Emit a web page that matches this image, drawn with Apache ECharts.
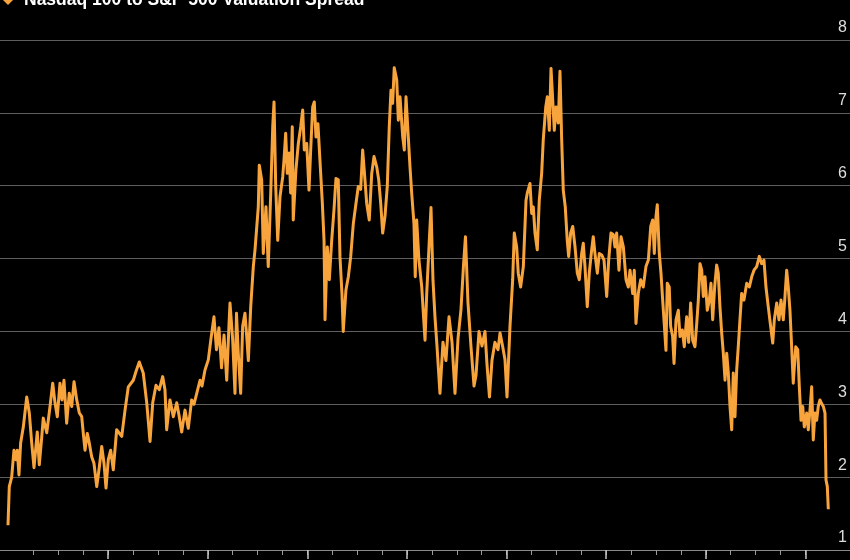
<!DOCTYPE html>
<html>
<head>
<meta charset="utf-8">
<script src="https://cdn.jsdelivr.net/npm/echarts@6/dist/echarts.min.js"></script>
<style>
html,body{margin:0;padding:0;background:#000;}
#chart{width:850px;height:560px;}
</style>
</head>
<body>
<div id="chart"></div>
<script>
const seriesName = 'Nasdaq 100 to S&P 500 Valuation Spread';
const yTicks = [1, 2, 3, 4, 5, 6, 7, 8];
// time in years since start of chart
const t = [
-0.006,0.007,0.031,0.054,0.074,0.087,0.104,0.121,0.148,0.182,0.208,0.232,0.255,0.272,0.288,0.308,0.332,0.348,0.383,0.416,
0.443,0.466,0.489,0.516,0.536,0.556,0.583,0.609,0.634,0.657,0.684,0.710,0.734,0.750,0.767,0.790,0.810,0.834,0.857,0.885,
0.911,0.935,0.958,0.978,1.001,1.025,1.051,1.085,1.136,1.169,1.202,1.252,1.279,1.312,1.352,1.387,1.420,1.447,1.480,1.513,
1.547,1.570,1.587,1.620,1.654,1.688,1.711,1.738,1.771,1.804,1.838,1.861,1.889,1.922,1.942,1.972,2.005,2.032,2.062,2.087,
2.112,2.138,2.163,2.190,2.213,2.223,2.250,2.273,2.288,2.306,2.330,2.350,2.373,2.391,2.407,2.431,2.457,2.474,2.507,2.517,
2.541,2.557,2.584,2.607,2.632,2.652,2.665,2.682,2.702,2.725,2.752,2.765,2.782,2.798,2.818,2.832,2.848,2.858,2.885,2.909,
2.933,2.953,2.969,2.993,3.016,3.033,3.053,3.069,3.086,3.106,3.126,3.150,3.167,3.177,3.200,3.220,3.244,3.267,3.287,3.310,
3.327,3.347,3.360,3.387,3.411,3.435,3.461,3.488,3.511,3.535,3.555,3.578,3.595,3.621,3.646,3.669,3.696,3.716,3.736,3.756,
3.779,3.802,3.822,3.839,3.856,3.872,3.897,3.913,3.930,3.957,3.973,3.990,4.013,4.030,4.047,4.070,4.083,4.097,4.120,4.148,
4.164,4.181,4.198,4.224,4.241,4.261,4.281,4.301,4.331,4.361,4.391,4.422,4.452,4.482,4.512,4.542,4.567,4.587,4.612,4.642,
4.673,4.693,4.723,4.753,4.783,4.803,4.828,4.853,4.883,4.914,4.934,4.961,4.984,5.004,5.034,5.061,5.077,5.101,5.117,5.141,
5.168,5.195,5.208,5.235,5.252,5.268,5.285,5.308,5.328,5.352,5.368,5.393,5.409,5.429,5.446,5.463,5.479,5.496,5.519,5.536,
5.553,5.569,5.589,5.609,5.623,5.643,5.664,5.687,5.710,5.730,5.754,5.770,5.787,5.810,5.830,5.854,5.870,5.887,5.911,5.931,
5.955,5.978,6.005,6.025,6.048,6.071,6.088,6.105,6.128,6.149,6.172,6.199,6.222,6.239,6.266,6.282,6.299,6.322,6.346,6.372,
6.399,6.423,6.447,6.467,6.483,6.500,6.513,6.533,6.550,6.567,6.580,6.600,6.613,6.633,6.647,6.667,6.681,6.701,6.724,6.741,
6.764,6.784,6.808,6.828,6.848,6.868,6.891,6.909,6.925,6.942,6.959,6.975,6.992,7.015,7.035,7.052,7.069,7.089,7.109,7.125,
7.142,7.160,7.176,7.193,7.210,7.226,7.243,7.260,7.276,7.293,7.310,7.326,7.343,7.360,7.383,7.411,7.437,7.461,7.484,7.511,
7.537,7.561,7.584,7.604,7.627,7.651,7.672,7.688,7.712,7.735,7.755,7.778,7.795,7.812,7.828,7.845,7.862,7.878,7.903,7.923,
7.939,7.956,7.973,7.989,8.013,8.029,8.046,8.063,8.079,8.096,8.113,8.129,8.146,8.163,8.180,8.197,8.207,8.220,8.230
];
const spread = [
1.34,1.87,2.00,2.37,2.24,2.37,2.03,2.47,2.69,3.10,2.88,2.47,2.13,2.14,2.62,2.17,2.54,2.81,2.61,2.97,
3.29,3.02,2.83,3.29,3.06,3.33,2.74,3.15,2.97,3.31,3.06,2.88,2.83,2.60,2.37,2.60,2.47,2.28,2.19,1.87,
2.14,2.42,2.19,1.85,2.24,2.37,2.10,2.65,2.56,2.92,3.24,3.33,3.45,3.58,3.43,3.02,2.49,3.02,3.26,3.20,
3.38,3.20,2.65,3.06,2.83,3.02,2.85,2.62,2.92,2.67,3.06,3.00,3.15,3.33,3.25,3.47,3.61,3.90,4.20,3.75,
4.05,3.50,3.95,3.33,4.10,4.39,3.88,3.15,4.25,3.70,3.15,4.07,4.25,3.93,3.60,4.34,4.89,5.12,5.71,6.28,
6.08,5.07,5.71,4.89,5.90,6.81,7.15,5.99,5.25,5.85,6.12,6.35,6.72,6.17,6.45,5.90,6.81,5.53,6.22,6.58,
6.81,7.04,6.49,6.58,5.94,6.49,7.08,7.15,6.67,6.85,6.35,5.76,5.25,4.16,5.16,4.71,5.25,5.67,6.10,6.08,
5.03,4.52,4.00,4.57,4.75,5.03,5.48,5.76,5.99,5.95,6.49,6.08,5.76,5.53,6.17,6.40,6.26,6.08,5.76,5.35,
5.58,5.99,6.81,7.31,7.13,7.62,7.45,6.90,7.22,6.67,6.49,7.22,6.67,6.26,5.90,5.48,4.75,5.53,4.98,4.61,
4.25,3.88,4.52,5.25,5.70,4.70,4.20,3.80,3.15,3.85,3.60,4.20,3.85,3.15,3.90,4.30,4.90,5.30,4.40,3.80,
3.25,3.40,4.00,3.80,4.00,3.55,3.10,3.60,3.85,3.75,3.98,3.79,3.61,3.10,4.07,4.71,5.35,5.16,4.80,4.61,
4.89,5.80,5.90,6.03,5.62,5.71,5.35,5.12,5.80,6.17,6.63,7.08,7.22,6.76,7.61,7.18,6.76,7.08,6.86,7.57,
6.63,5.94,5.71,5.25,5.03,5.35,5.44,5.16,4.80,4.71,5.07,5.21,4.89,4.34,4.80,5.12,5.30,5.07,4.80,5.07,
5.05,4.98,4.48,4.98,5.35,5.33,5.16,5.35,4.84,5.30,5.16,4.71,4.61,4.84,4.52,4.84,4.11,4.52,4.71,4.61,
4.89,4.98,5.44,5.53,5.07,5.58,5.74,5.07,4.80,4.43,4.16,3.74,4.66,4.61,4.07,3.93,3.56,4.16,4.29,3.93,
4.02,3.79,4.20,3.85,4.39,3.88,3.79,4.11,4.43,4.93,4.84,4.48,4.75,4.29,4.43,4.66,4.16,4.61,4.91,4.80,
4.34,3.97,3.70,3.33,3.70,3.43,2.97,2.65,3.43,2.83,3.47,3.79,4.16,4.52,4.43,4.66,4.61,4.75,4.84,4.89,
5.03,4.93,4.98,4.61,4.34,4.07,3.84,4.16,4.39,4.16,4.43,4.16,4.48,4.84,4.61,4.29,3.79,3.29,3.79,3.75,
3.24,2.78,2.97,2.69,2.88,2.65,2.92,3.24,2.51,2.88,2.78,2.97,3.06,3.01,2.97,2.88,1.96,1.87,1.56
];

const chart = echarts.init(document.getElementById('chart'), null, {renderer: 'canvas'});
const data = t.map((v, i) => [v, spread[i]]);

chart.setOption({
  animation: false,
  backgroundColor: '#000000',
  legend: {
    show: true,
    data: [seriesName],
    left: -2,
    top: -14,
    icon: 'diamond',
    itemWidth: 10,
    itemHeight: 10,
    textStyle: {color: '#ffffff', fontSize: 17.5, fontWeight: 'bold', fontFamily: 'Liberation Sans, Arial, sans-serif', padding: [0, 0, 0, 6]}
  },
  grid: [
    {left: 0, right: 0, top: 40, bottom: 10},
    {left: 33.5, right: 44.6, top: 40, bottom: 10},
    {left: 108.2, right: 44.6, top: 40, bottom: 10}
  ],
  xAxis: [
    {
      gridIndex: 0, type: 'value', min: -0.0863, max: 8.4478,
      axisLine: {show: true, lineStyle: {color: '#8a8a8a', width: 1}},
      axisTick: {show: false}, axisLabel: {show: false}, splitLine: {show: false}
    },
    {
      gridIndex: 1, type: 'value', min: 0.25, max: 8, interval: 0.25,
      axisLine: {show: false},
      axisTick: {show: true, length: 5, lineStyle: {color: '#9a9a9a', width: 1}},
      axisLabel: {show: false}, splitLine: {show: false}
    },
    {
      gridIndex: 2, type: 'value', min: 1, max: 8, interval: 1,
      axisLine: {show: false},
      axisTick: {show: true, length: 9, lineStyle: {color: '#c8c8c8', width: 1.5}},
      axisLabel: {show: false}, splitLine: {show: false}
    }
  ],
  yAxis: [
    {
      gridIndex: 0, type: 'value', min: 1, max: 8, interval: 1, position: 'right',
      axisLine: {show: false}, axisTick: {show: false},
      splitLine: {show: true, lineStyle: {color: '#5e5e5e', width: 1}},
      axisLabel: {
        show: true, inside: true, margin: 3, color: '#dddddd', fontSize: 16,
        fontFamily: 'Liberation Sans, Arial, sans-serif',
        verticalAlign: 'bottom', padding: [0, 0, 4, 0],
        formatter: function (v) { return yTicks.indexOf(v) >= 0 ? String(v) : ''; }
      }
    },
    {gridIndex: 1, type: 'value', show: false, min: 0, max: 1},
    {gridIndex: 2, type: 'value', show: false, min: 0, max: 1}
  ],
  series: [
    {
      name: seriesName,
      type: 'line',
      xAxisIndex: 0, yAxisIndex: 0,
      data: data,
      showSymbol: false,
      symbol: 'none',
      lineStyle: {color: '#f8a43c', width: 3, join: 'round'},
      itemStyle: {color: '#f8a43c'}
    }
  ]
});
</script>
</body>
</html>
